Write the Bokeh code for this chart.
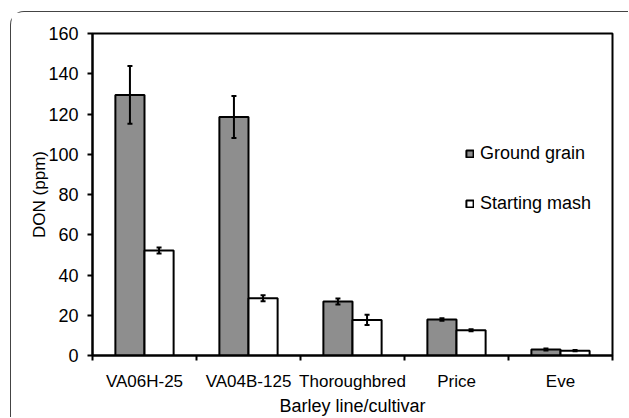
import numpy as np
from bokeh.plotting import figure
from bokeh.models import (Range1d, FixedTicker, ColumnDataSource, Whisker, TeeHead,
                          Legend, LegendItem)
from bokeh.embed import file_html
from bokeh.resources import INLINE

categories = ["VA06H-25", "VA04B-125", "Thoroughbred", "Price", "Eve"]
ground = [129.5, 118.5, 26.8, 17.9, 3.0]
ground_err = [14.3, 10.4, 1.5, 0.6, 0.5]
mash = [52.2, 28.5, 17.7, 12.6, 2.4]
mash_err = [1.5, 1.5, 2.5, 0.5, 0.3]
y_ticks = [0, 20, 40, 60, 80, 100, 120, 140, 160]

FONT = "Liberation Sans"
GRAY = "#8e8e8e"
BW = 0.28

centers = np.arange(len(categories)) + 0.5
src_g = ColumnDataSource(dict(x=centers - BW / 2, top=ground,
                              upper=np.array(ground) + np.array(ground_err),
                              lower=np.array(ground) - np.array(ground_err)))
src_m = ColumnDataSource(dict(x=centers + BW / 2, top=mash,
                              upper=np.array(mash) + np.array(mash_err),
                              lower=np.array(mash) - np.array(mash_err)))

p = figure(width=618, height=406, output_backend="svg", toolbar_location=None,
           x_range=Range1d(0, len(categories)), y_range=Range1d(0, 160),
           min_border_left=81, min_border_right=17, min_border_top=21, min_border_bottom=63)
p.styles = {"margin-left": "10px", "margin-top": "11px",
            "border-left": "1px solid #444", "border-top": "1px solid #444",
            "border-top-left-radius": "14px"}
p.grid.visible = False
p.outline_line_color = "black"
p.outline_line_width = 2

rg = p.vbar(x="x", top="top", width=BW, bottom=0, source=src_g, fill_color=GRAY,
            line_color="black", line_width=2)
rm = p.vbar(x="x", top="top", width=BW, bottom=0, source=src_m, fill_color="white",
            line_color="black", line_width=2)

for s in (src_g, src_m):
    p.add_layout(Whisker(source=s, base="x", upper="upper", lower="lower", level="overlay",
                         line_color="black", line_width=2,
                         upper_head=TeeHead(size=5, line_width=2, line_color="black"),
                         lower_head=TeeHead(size=5, line_width=2, line_color="black")))

xa = p.xaxis[0]
xa.ticker = FixedTicker(ticks=list(centers), minor_ticks=list(range(len(categories) + 1)))
xa.major_label_overrides = {float(c): n for c, n in zip(centers, categories)}
xa.major_tick_line_color = None
xa.major_tick_out = 0
xa.minor_tick_in = 0
xa.minor_tick_out = 5
xa.minor_tick_line_color = "black"
xa.minor_tick_line_width = 2
xa.major_label_standoff = 11
xa.axis_label = "Barley line/cultivar"
xa.axis_label_standoff = 2

ya = p.yaxis[0]
ya.ticker = FixedTicker(ticks=y_ticks)
ya.major_tick_in = 0
ya.major_tick_out = 5
ya.major_tick_line_width = 2
ya.minor_tick_line_color = None
ya.major_label_standoff = 9
ya.axis_label = "DON (ppm)"
ya.axis_label_standoff = -4

for ax in (xa, ya):
    ax.axis_line_color = "black"
    ax.axis_line_width = 2
    ax.major_label_text_font = FONT
    ax.major_label_text_color = "black"
    ax.axis_label_text_font = FONT
    ax.axis_label_text_font_style = "normal"
    ax.axis_label_text_color = "black"
xa.major_label_text_font_size = "17px"
ya.major_label_text_font_size = "18px"
xa.axis_label_text_font_size = "18px"
ya.axis_label_text_font_size = "17px"

legend = Legend(items=[LegendItem(label="Ground grain", renderers=[rg]),
                       LegendItem(label="Starting mash", renderers=[rm])],
                location=(373, 141), orientation="vertical")
legend.glyph_width = 9
legend.glyph_height = 9
legend.label_height = 20
legend.spacing = 29
legend.label_standoff = 6
legend.padding = 0
legend.margin = 0
legend.border_line_color = None
legend.background_fill_alpha = 0
legend.label_text_font = FONT
legend.label_text_font_size = "18px"
legend.label_text_color = "black"
p.add_layout(legend)

open("out.html", "w").write(file_html(p, INLINE))
